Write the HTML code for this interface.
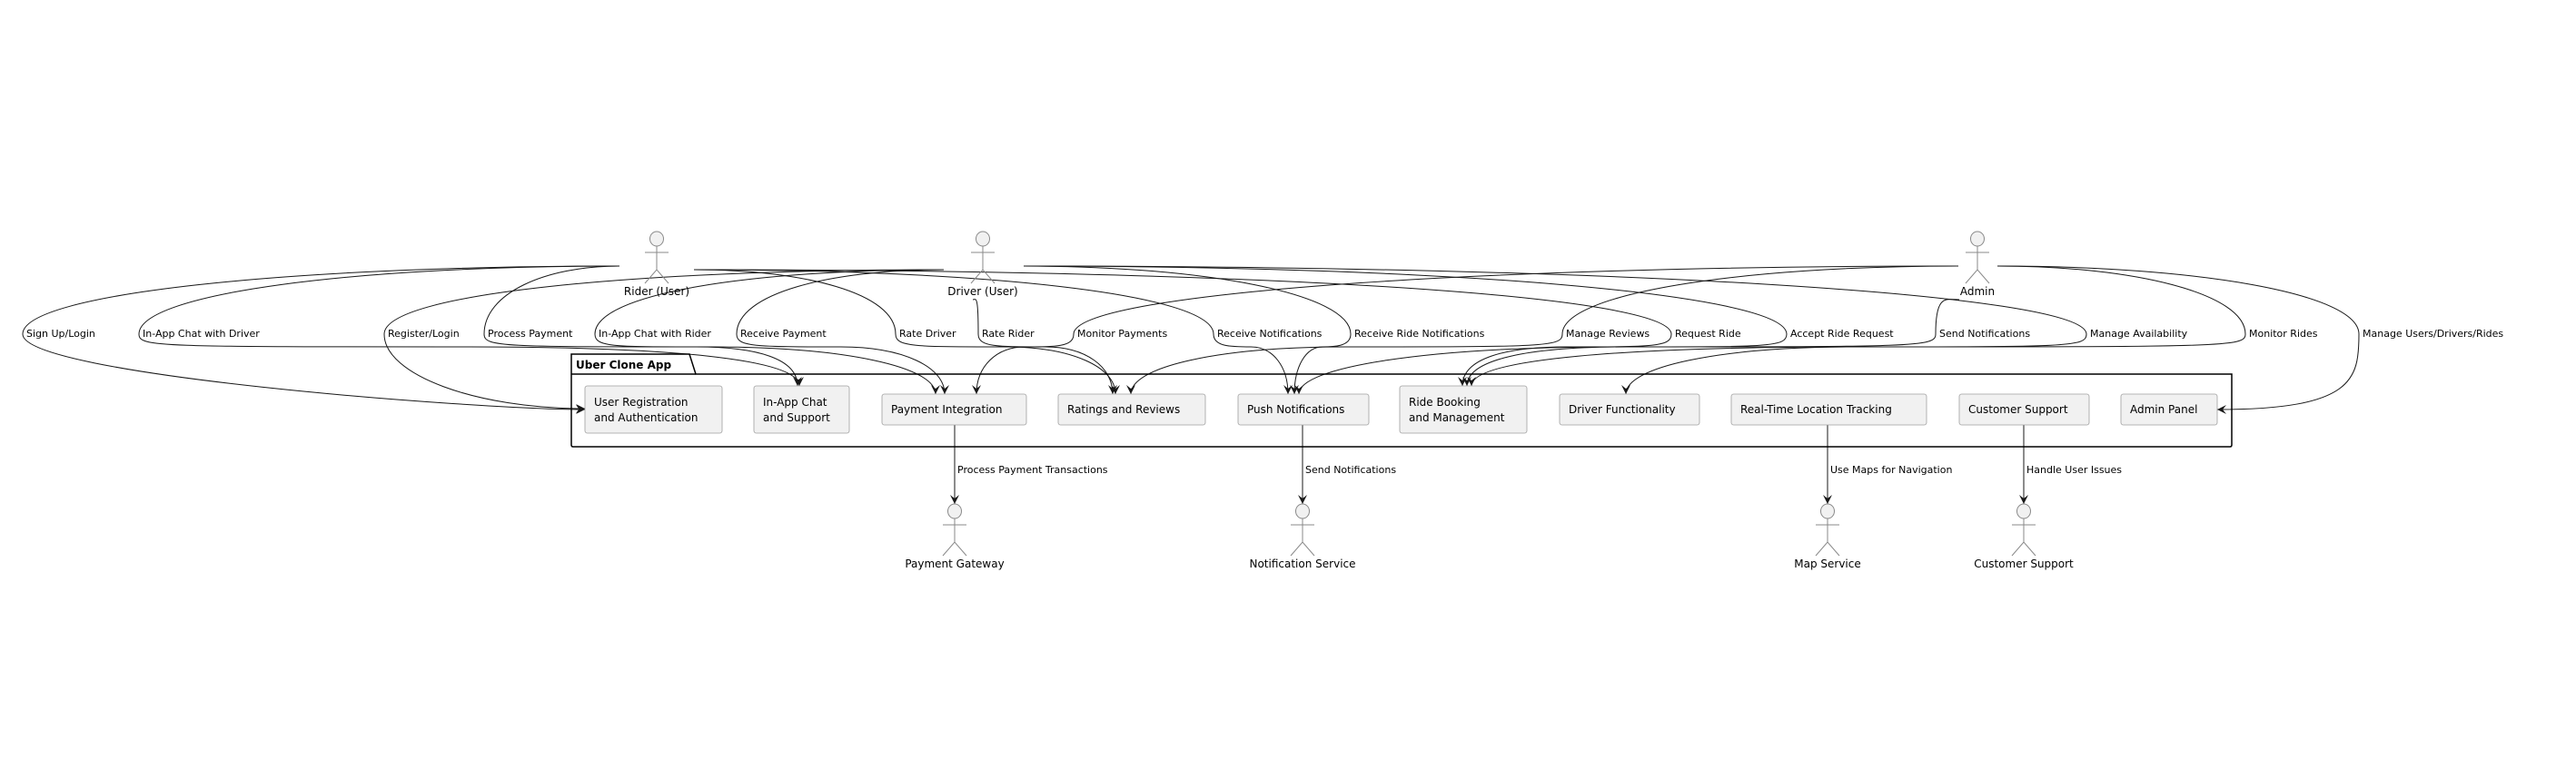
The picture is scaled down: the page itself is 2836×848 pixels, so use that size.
<!DOCTYPE html>
<html><head><meta charset="utf-8"><style>
html,body{margin:0;padding:0;background:#fff;}
svg{display:block;}
text{font-family:"DejaVu Sans","Liberation Sans",sans-serif;fill:#000;}
.lbl{font-size:11px;}
.bx{font-size:12px;}
.act{font-size:12px;}
</style></head><body>
<svg id="s" width="2836" height="848" viewBox="0 0 2836 848" xmlns="http://www.w3.org/2000/svg">
<defs>
<marker id="ar" markerWidth="12" markerHeight="10" refX="10" refY="5" orient="auto" markerUnits="userSpaceOnUse">
<path d="M0,0 L10,5 L0,10 L4,5 Z" fill="#181818"/>
</marker>
</defs>
<g id="edges" fill="none" stroke="#181818" stroke-width="1"></g>

<!-- package -->
<path d="M629,390 L759,390 L766,412 L2457,412 L2457,490 Q2457,492 2455,492 L631,492 Q629,492 629,490 Z" fill="none" stroke="#000" stroke-width="1.5"/>
<line x1="629" y1="412" x2="766" y2="412" stroke="#000" stroke-width="1.5"/>
<text x="634" y="406" style="font-size:12px;font-weight:bold">Uber Clone App</text>

<g fill="#f1f1f1" stroke="#a0a0a0" stroke-width="0.8">
<rect x="644" y="425" width="151" height="52" rx="2.5"/>
<rect x="830" y="425" width="105" height="52" rx="2.5"/>
<rect x="971" y="434" width="159" height="34" rx="2.5"/>
<rect x="1165" y="434" width="162" height="34" rx="2.5"/>
<rect x="1363" y="434" width="144" height="34" rx="2.5"/>
<rect x="1541" y="425" width="140" height="52" rx="2.5"/>
<rect x="1717" y="434" width="154" height="34" rx="2.5"/>
<rect x="1906" y="434" width="215" height="34" rx="2.5"/>
<rect x="2157" y="434" width="143" height="34" rx="2.5"/>
<rect x="2335" y="434" width="106" height="34" rx="2.5"/>
</g>
<g class="bx">
<text class="bx" x="654" y="447">User Registration</text><text class="bx" x="654" y="464">and Authentication</text>
<text class="bx" x="840" y="447">In-App Chat</text><text class="bx" x="840" y="464">and Support</text>
<text class="bx" x="981" y="455">Payment Integration</text>
<text class="bx" x="1175" y="455">Ratings and Reviews</text>
<text class="bx" x="1373" y="455">Push Notifications</text>
<text class="bx" x="1551" y="447">Ride Booking</text><text class="bx" x="1551" y="464">and Management</text>
<text class="bx" x="1727" y="455">Driver Functionality</text>
<text class="bx" x="1916" y="455">Real-Time Location Tracking</text>
<text class="bx" x="2167" y="455">Customer Support</text>
<text class="bx" x="2345" y="455">Admin Panel</text>
</g>

<g class="lbl">
<text class="lbl" x="29" y="371">Sign Up/Login</text>
<text class="lbl" x="157" y="371">In-App Chat with Driver</text>
<text class="lbl" x="427" y="371">Register/Login</text>
<text class="lbl" x="537" y="371">Process Payment</text>
<text class="lbl" x="659" y="371">In-App Chat with Rider</text>
<text class="lbl" x="815" y="371">Receive Payment</text>
<text class="lbl" x="990" y="371">Rate Driver</text>
<text class="lbl" x="1081" y="371">Rate Rider</text>
<text class="lbl" x="1186" y="371">Monitor Payments</text>
<text class="lbl" x="1340" y="371">Receive Notifications</text>
<text class="lbl" x="1491" y="371">Receive Ride Notifications</text>
<text class="lbl" x="1724" y="371">Manage Reviews</text>
<text class="lbl" x="1844" y="371">Request Ride</text>
<text class="lbl" x="1971" y="371">Accept Ride Request</text>
<text class="lbl" x="2135" y="371">Send Notifications</text>
<text class="lbl" x="2301" y="371">Manage Availability</text>
<text class="lbl" x="2476" y="371">Monitor Rides</text>
<text class="lbl" x="2601" y="371">Manage Users/Drivers/Rides</text>
<text class="lbl" x="1054" y="521">Process Payment Transactions</text>
<text class="lbl" x="1437" y="521">Send Notifications</text>
<text class="lbl" x="2015" y="521">Use Maps for Navigation</text>
<text class="lbl" x="2231" y="521">Handle User Issues</text>
</g>

<g id="actors" fill="none" stroke="#8a8a8a" stroke-width="1"></g>
<g text-anchor="middle">
<text class="act" x="723" y="325" text-anchor="middle">Rider (User)</text>
<text class="act" x="1082" y="325" text-anchor="middle">Driver (User)</text>
<text class="act" x="2177" y="325" text-anchor="middle">Admin</text>
<text class="act" x="1051" y="625" text-anchor="middle">Payment Gateway</text>
<text class="act" x="1434" y="625" text-anchor="middle">Notification Service</text>
<text class="act" x="2012" y="625" text-anchor="middle">Map Service</text>
<text class="act" x="2228" y="625" text-anchor="middle">Customer Support</text>
</g>
</svg>
<script>
var NS="http://www.w3.org/2000/svg";
var A=document.getElementById('actors');
function actor(x,hy){
 var e=document.createElementNS(NS,'ellipse');e.setAttribute('cx',x);e.setAttribute('cy',hy);e.setAttribute('rx',7.5);e.setAttribute('ry',8);e.setAttribute('fill','#f1f1f1');A.appendChild(e);
 var p=document.createElementNS(NS,'path');
 p.setAttribute('d','M'+(x-13)+','+(hy+15)+' L'+(x+13)+','+(hy+15)+' M'+x+','+(hy+8)+' L'+x+','+(hy+34)+' M'+(x-13)+','+(hy+49)+' L'+x+','+(hy+34)+' L'+(x+13)+','+(hy+49));
 A.appendChild(p);
}
[[723,263],[1082,263],[2177,263],[1051,563],[1434,563],[2012,563],[2228,563]].forEach(function(a){actor(a[0],a[1]);});
var E=document.getElementById('edges');
function path(d){var p=document.createElementNS(NS,'path');p.setAttribute('d',d);p.setAttribute('marker-end','url(#ar)');E.appendChild(p);}
var RL=[682,293],RR=[764,297],DL=[1039,297],DR=[1127,293],AL=[2156,293],AR=[2199,293];
function edge(S,lx,T,side){
 var L=[lx-4,368];
 var d='M'+S[0]+','+S[1]+' C'+(S[0]+(L[0]-S[0])*0.55)+','+S[1]+' '+L[0]+','+(L[1]-45)+' '+L[0]+','+L[1];
 if(side==='left'){
  d+=' C'+L[0]+','+(L[1]+45)+' '+(T[0]-120)+','+T[1]+' '+T[0]+','+T[1];
 } else if(side==='right'){
  d+=' C'+L[0]+','+(L[1]+50)+' '+(T[0]+150)+','+T[1]+' '+T[0]+','+T[1];
 } else {
  var my=382;
  d+=' C'+L[0]+','+(my)+' '+(L[0]+(T[0]>L[0]?20:-20))+','+my+' '+(L[0]+(T[0]-L[0])*0.5)+','+my;
  d+=' C'+(T[0]-(T[0]-L[0])*0.2)+','+my+' '+T[0]+','+(T[1]-30)+' '+T[0]+','+T[1];
 }
 path(d);
}
edge(RL,29,[644,451],'left');
edge(RL,157,[880,425]);
edge(DL,427,[644,450],'left');
edge(RL,537,[1030,434]);
edge(DL,659,[878,425]);
edge(DL,815,[1040,434]);
edge(RR,990,[1228,434]);
edge([1071,330],1081,[1225,434]);
edge(AL,1186,[1075,434]);
edge(RR,1340,[1418,434]);
edge(DR,1491,[1425,434]);
edge(AL,1724,[1245,434]);
edge(RR,1844,[1610,425]);
edge(DR,1971,[1615,425]);
edge([2157,330],2135,[1430,434]);
edge(DR,2301,[1790,434]);
edge(AR,2476,[1620,425]);
edge(AR,2601,[2441,451],'right');
[[1051,468,555],[1434,468,555],[2012,468,555],[2228,468,555]].forEach(function(v){path('M'+v[0]+','+v[1]+' L'+v[0]+','+v[2]);});
</script>
</body></html>
